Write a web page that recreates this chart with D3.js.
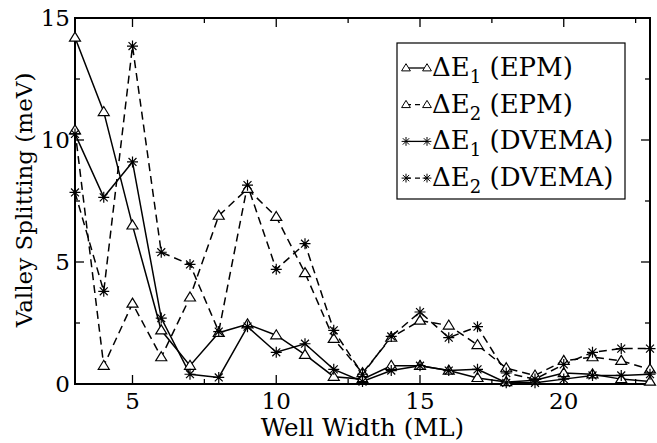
<!DOCTYPE html>
<html>
<head>
<meta charset="utf-8">
<script src="https://cdn.jsdelivr.net/npm/d3@7"></script>
<style>
  html, body { margin: 0; padding: 0; background: #fff; }
  svg text { font-family: "DejaVu Serif", serif; }
</style>
</head>
<body>
<svg id="chart" width="657" height="443"></svg>
<script>
// ------------------------------------------------------------
// Data
// ------------------------------------------------------------
const widths = [3, 4, 5, 6, 7, 8, 9, 10, 11, 12, 13, 14, 15, 16, 17, 18, 19, 20, 21, 22, 23];

const epm1   = [14.2, 11.15, 6.5, 2.2, 0.75, 2.1, 2.45, 2.0, 1.2, 0.3, 0.2, 0.75, 0.75, 0.55, 0.25, 0.08, 0.15, 0.45, 0.4, 0.2, 0.1];
const epm2   = [10.4, 0.75, 3.3, 1.1, 3.55, 6.9, 8.0, 6.85, 4.55, 1.85, 0.45, 1.9, 2.6, 2.4, 1.6, 0.65, 0.35, 0.95, 1.1, 0.95, 0.6];
const dvema1 = [10.25, 7.65, 9.1, 2.7, 0.4, 0.27, 2.35, 1.3, 1.65, 0.6, 0.1, 0.55, 0.75, 0.55, 0.6, 0.05, 0.05, 0.2, 0.35, 0.35, 0.4];
const dvema2 = [7.85, 3.8, 13.85, 5.4, 4.9, 2.15, 8.15, 4.7, 5.75, 2.2, 0.4, 1.95, 2.95, 1.9, 2.35, 0.45, 0.2, 0.8, 1.3, 1.45, 1.45];

const xMajorTicks = [5, 10, 15, 20];
const xMinorTicks = [7.5, 12.5, 17.5, 22.5];
const yMajorTicks = [0, 5, 10, 15];
const yMinorTicks = [2.5, 7.5, 12.5];

const seriesNames = ["(EPM)", "(EPM)", "(DVEMA)", "(DVEMA)"];
const seriesSubs  = ["1", "2", "1", "2"];
const seriesValues = [epm1, epm2, dvema1, dvema2];
const seriesMarker = ["triangle", "triangle", "star", "star"];
const seriesDashed = [false, true, false, true];

const FONT = "DejaVu Serif";

// ------------------------------------------------------------
// Layout
// ------------------------------------------------------------
const width = 657, height = 443;
const margin = { top: 18, right: 7, bottom: 59, left: 75 };

const svg = d3.select("#chart").attr("font-family", FONT);

const x = d3.scaleLinear()
  .domain([3, 23])
  .range([margin.left, width - margin.right]);

const y = d3.scaleLinear()
  .domain([0, 15])
  .range([height - margin.bottom, margin.top]);

const x0 = x.range()[0], x1 = x.range()[1];
const y0 = y.range()[0], y1 = y.range()[1];

// Frame
svg.append("rect")
  .attr("x", x0).attr("y", y1)
  .attr("width", x1 - x0).attr("height", y0 - y1)
  .attr("fill", "none")
  .attr("stroke", "#000")
  .attr("stroke-width", 2);

// Ticks on all four sides, pointing inward
const majorLen = 9, minorLen = 5;
const tickG = svg.append("g").attr("stroke", "#000").attr("stroke-width", 1.3);

function xTicks(vals, len) {
  vals.forEach(v => {
    tickG.append("line").attr("x1", x(v)).attr("x2", x(v)).attr("y1", y0).attr("y2", y0 - len);
    tickG.append("line").attr("x1", x(v)).attr("x2", x(v)).attr("y1", y1).attr("y2", y1 + len);
  });
}
function yTicks(vals, len) {
  vals.forEach(v => {
    tickG.append("line").attr("y1", y(v)).attr("y2", y(v)).attr("x1", x0).attr("x2", x0 + len);
    tickG.append("line").attr("y1", y(v)).attr("y2", y(v)).attr("x1", x1).attr("x2", x1 - len);
  });
}
xTicks(xMajorTicks, majorLen);
xTicks(xMinorTicks, minorLen);
yTicks(yMajorTicks.filter(v => v > 0 && v < 15), majorLen);
yTicks(yMinorTicks, minorLen);

// Tick labels
svg.append("g")
  .selectAll("text")
  .data(xMajorTicks)
  .join("text")
  .attr("font-family", FONT)
  .attr("x", d => x(d))
  .attr("y", y0 + 25)
  .attr("text-anchor", "middle")
  .attr("font-size", 23)
  .text(d => d);

svg.append("g")
  .selectAll("text")
  .data(yMajorTicks)
  .join("text")
  .attr("font-family", FONT)
  .attr("x", x0 - 5)
  .attr("y", d => y(d) + 8)
  .attr("text-anchor", "end")
  .attr("font-size", 23)
  .text(d => d);

// Axis titles
svg.append("text")
  .attr("font-family", FONT)
  .attr("x", (x0 + x1) / 2)
  .attr("y", 436)
  .attr("text-anchor", "middle")
  .attr("font-size", 24.5)
  .text("Well Width (ML)");

svg.append("text")
  .attr("font-family", FONT)
  .attr("transform", `translate(32,${(y0 + y1) / 2 - 1}) rotate(-90)`)
  .attr("text-anchor", "middle")
  .attr("font-size", 23)
  .text("Valley Splitting (meV)");

// ------------------------------------------------------------
// Markers
// ------------------------------------------------------------
function markerPath(kind, cx, cy, s) {
  if (kind === "triangle") {
    const w = 5.5 * s, h = 9 * s;
    return `M${cx},${cy - h * 0.6} L${cx + w},${cy + h * 0.4} L${cx - w},${cy + h * 0.4} Z`;
  }
  const r = 5.5 * s, d = r * 0.72;
  return `M${cx - r},${cy}L${cx + r},${cy}M${cx},${cy - r}L${cx},${cy + r}` +
         `M${cx - d},${cy - d}L${cx + d},${cy + d}M${cx - d},${cy + d}L${cx + d},${cy - d}`;
}

// ------------------------------------------------------------
// Series
// ------------------------------------------------------------
const line = d3.line()
  .x(d => x(d[0]))
  .y(d => y(d[1]));

seriesValues.forEach((vals, i) => {
  const pts = widths.map((w, j) => [w, vals[j]]);
  svg.append("path")
    .datum(pts)
    .attr("fill", "none")
    .attr("stroke", "#000")
    .attr("stroke-width", 1.5)
    .attr("stroke-dasharray", seriesDashed[i] ? "8,5" : null)
    .attr("d", line);
});

seriesValues.forEach((vals, i) => {
  svg.append("g")
    .selectAll("path")
    .data(widths.map((w, j) => [w, vals[j]]))
    .join("path")
    .attr("d", d => markerPath(seriesMarker[i], x(d[0]), y(d[1]), 1))
    .attr("fill", seriesMarker[i] === "triangle" ? "#fff" : "none")
    .attr("stroke", "#000")
    .attr("stroke-width", 1.2);
});

// ------------------------------------------------------------
// Legend
// ------------------------------------------------------------
const legend = svg.append("g");
legend.append("rect")
  .attr("x", 397).attr("y", 43)
  .attr("width", 228).attr("height", 156)
  .attr("fill", "#fff")
  .attr("stroke", "#000")
  .attr("stroke-width", 1.2);

seriesValues.forEach((vals, i) => {
  const base = 76 + i * 36.7;
  const cy = base - 8;
  legend.append("line")
    .attr("x1", 406).attr("x2", 427)
    .attr("y1", cy).attr("y2", cy)
    .attr("stroke", "#000")
    .attr("stroke-width", 1.3)
    .attr("stroke-dasharray", seriesDashed[i] ? "5,4" : null);
  [406, 427].forEach(mx => {
    legend.append("path")
      .attr("d", markerPath(seriesMarker[i], mx, cy, 0.8))
      .attr("fill", seriesMarker[i] === "triangle" ? "#fff" : "none")
      .attr("stroke", "#000")
      .attr("stroke-width", 1);
  });
  const t = legend.append("text")
    .attr("font-family", FONT)
    .attr("x", 432)
    .attr("y", base)
    .attr("font-size", 26);
  t.append("tspan").text("\u0394E");
  t.append("tspan").attr("font-size", 18).attr("dy", 7).text(seriesSubs[i]);
  t.append("tspan").attr("dy", -7).text(" " + seriesNames[i]);
});
</script>
</body>
</html>
